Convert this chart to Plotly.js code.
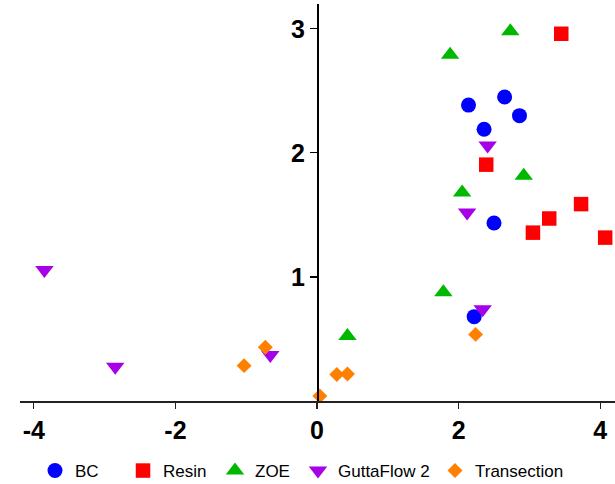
<!DOCTYPE html>
<html>
<head>
<meta charset="utf-8">
<script src="https://cdn.plot.ly/plotly-3.0.1.min.js"></script>
<style>html,body{margin:0;padding:0;background:#fff;}#chart{width:615px;height:484px;}</style>
</head>
<body>
<div id="chart"></div>
<script>
// Data
const seriesNames = ["BC", "Resin", "ZOE", "GuttaFlow 2", "Transection"];
const bcX = [2.14, 2.65, 2.86, 2.36, 2.50, 2.22];
const bcY = [2.385, 2.45, 2.30, 2.19, 1.435, 0.68];
const resinX = [3.45, 2.39, 3.73, 3.28, 3.05, 4.07];
const resinY = [2.96, 1.905, 1.587, 1.471, 1.357, 1.317];
const zoeX = [2.73, 1.88, 2.92, 2.05, 1.785, 0.43];
const zoeY = [2.98, 2.79, 1.815, 1.68, 0.876, 0.524];
const gfX = [2.41, 2.12, 2.34, -3.85, -2.85, -0.66];
const gfY = [2.06, 1.52, 0.74, 1.056, 0.277, 0.37];
const trX = [2.24, 0.43, 0.28, 0.04, -1.03, -0.73];
const trY = [0.537, 0.218, 0.213, 0.04, 0.285, 0.433];
const xTicks = [-4, -2, 0, 2, 4];
const yTicks = [1, 2, 3];

const colors = ["#0000ff", "#ff0000", "#00b800", "#a600e8", "#ff8000"];
const symbols = ["circle", "square", "triangle-up", "triangle-down", "diamond"];
const sizes = [15, 14.5, 16, 16, 11.5];
const xs = [bcX, resinX, zoeX, gfX, trX];
const ys = [bcY, resinY, zoeY, gfY, trY];
const legendIds = ["legend", "legend2", "legend3", "legend4", "legend5"];
const legendCenters = [55, 143, 235, 318, 455];

const plotLeft = 20, plotW = 595, plotBottom = 401, plotH = 397;
const traces = seriesNames.map((n, i) => ({
  type: "scatter", mode: "markers", name: n,
  x: xs[i], y: ys[i], cliponaxis: false,
  legend: legendIds[i],
  marker: {symbol: symbols[i], size: sizes[i], color: colors[i], line: {width: 0}}
}));

const layout = {
  width: 615, height: 484,
  margin: {l: 20, r: 0, t: 4, b: 83, autoexpand: false},
  paper_bgcolor: "#fff", plot_bgcolor: "#fff",
  font: {family: "Liberation Sans, Arial, sans-serif", color: "#000"},
  showlegend: true,
  xaxis: {
    range: [-4.195, 4.209], tickvals: xTicks, ticktext: xTicks.map(String),
    showgrid: false, zeroline: false, showline: true, linecolor: "#222", linewidth: 1.5,
    ticks: "outside", ticklen: 6, tickwidth: 1.2, tickcolor: "#222",
    tickfont: {size: 25, weight: 700, color: "#000"}
  },
  yaxis: {
    range: [0, 3.2], tickvals: yTicks, ticktext: yTicks.map(String),
    anchor: "free", position: (317 - plotLeft) / plotW,
    showgrid: false, zeroline: false, showline: true, linecolor: "#000", linewidth: 1.5,
    ticks: "outside", ticklen: 7, tickwidth: 1.2, tickcolor: "#000",
    tickfont: {size: 25, weight: 700, color: "#000"}
  }
};
legendIds.forEach((id, i) => {
  layout[id] = {
    x: (legendCenters[i] - 20 - plotLeft) / plotW, xanchor: "left",
    y: (plotBottom - 471) / plotH, yanchor: "middle",
    orientation: "h", bgcolor: "rgba(0,0,0,0)", borderwidth: 0,
    font: {size: 17, color: "#000"}
  };
});

Plotly.newPlot("chart", traces, layout, {displayModeBar: false, staticPlot: true});
</script>
</body>
</html>
